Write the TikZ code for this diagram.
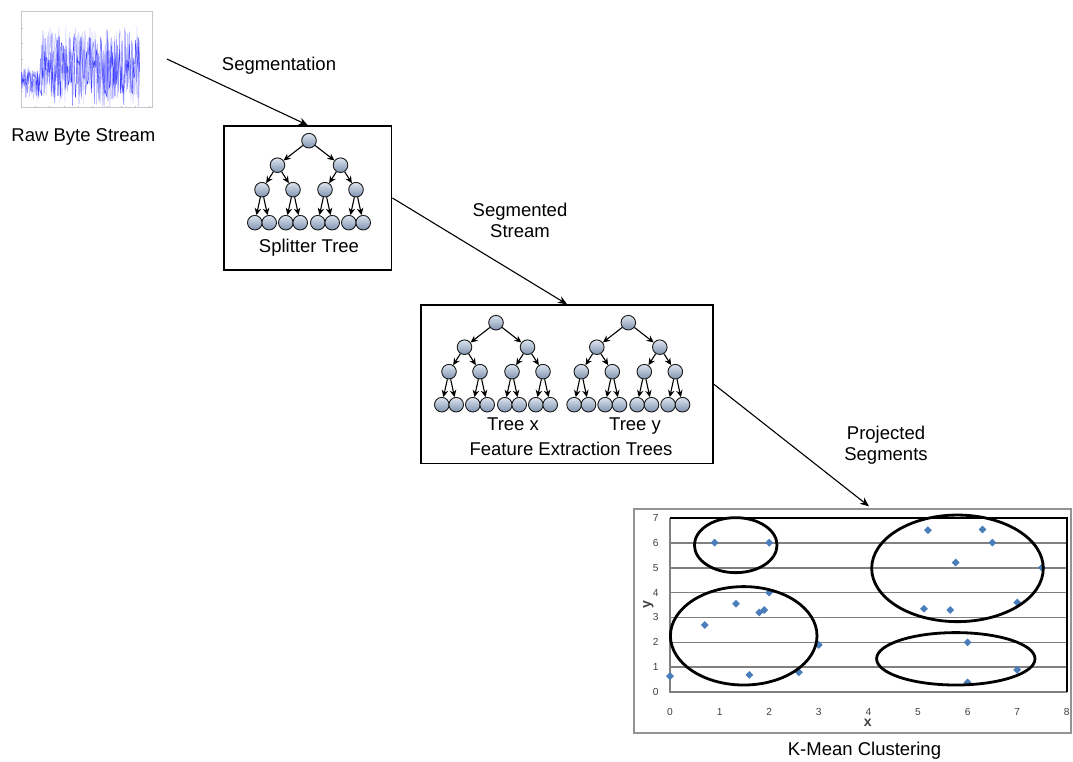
\documentclass[tikz,border=0pt]{standalone}
\usepackage{fontspec}
\setmainfont{Liberation Sans}
\usetikzlibrary{arrows.meta,shapes.geometric,calc}

\definecolor{nodetop}{HTML}{DDE5EF}
\definecolor{nodebot}{HTML}{7F92B0}
\definecolor{ptblue}{HTML}{4A7EBB}
\definecolor{gridgray}{HTML}{808080}
\definecolor{ticktext}{HTML}{404040}

\tikzset{
  lbl/.style={font=\fontsize{18.5}{21.5}\selectfont, anchor=base, inner sep=0},
  boxframe/.style={draw, line width=1.5pt, inner sep=0, rectangle},
  tnode/.style={circle, inner sep=0, minimum size=14.6pt, draw=black!90,
    line width=0.9pt, top color=nodetop, bottom color=nodebot},
  tarrow/.style={-{Stealth[length=7pt,width=6.5pt]}, line width=1.1pt},
  flow/.style={-{Stealth[length=9pt,width=7.5pt]}, line width=1.1pt},
  gridline/.style={gridgray, line width=1.8pt},
  plotborder/.style={black, line width=2.2pt},
  cluster/.style={draw=black, line width=2.8pt},
  datapt/.style={diamond, fill=ptblue, inner sep=0, minimum size=8pt},
  ticklbl/.style={font=\fontsize{10.2}{12}\selectfont, text=ticktext, inner sep=0},
  axtitle/.style={font=\fontsize{14}{16}\selectfont\bfseries, text=ticktext, inner sep=0},
  trace/.style={line width=0.55pt, line join=round},
}

% binary tree of depth 3: root, two children, four grandchildren, eight leaves
\newcommand{\bintree}[3]{%
  \node[tnode] (#1) at (#2,#3) {};
  \foreach \i/\dx in {l/-31.5, r/31.5} {
    \node[tnode] (#1\i) at (#2+\dx, #3+24.5) {};
    \draw[tarrow] (#1) -- (#1\i);
    \foreach \j/\ex in {l/-15.5, r/15.5} {
      \node[tnode] (#1\i\j) at (#2+\dx+\ex, #3+49) {};
      \draw[tarrow] (#1\i) -- (#1\i\j);
      \foreach \k/\fx in {l/-7.2, r/7.2} {
        \node[tnode] (#1\i\j\k) at (#2+\dx+\ex+\fx, #3+82) {};
        \draw[tarrow] (#1\i\j) -- (#1\i\j\k);
      }
    }
  }%
}

\begin{document}
\begin{tikzpicture}[x=1pt, y=-1pt]
\useasboundingbox (0,0) rectangle (1073,762);

% ---------- raw byte stream plot ----------
\node[inner sep=0, minimum width=158.7pt, minimum height=112pt] (rawimg) at (87.35,59) {};
\node[draw=black!22, line width=0.7pt, inner sep=0, minimum width=131.7pt,
      minimum height=95.6pt] (rawplot) at (86.85,59.5) {};
\foreach \k in {1,...,9} \draw[black!25, line width=0.5pt] (21+14.3*\k,107.3) -- ++(0,-1.5);
\foreach \k in {1,...,5} \draw[black!25, line width=0.5pt] (21,107.3-15.9*\k) -- ++(1.5,0);
\begin{scope}
  \clip (21,11.7) rectangle (152.7,107.3);
  \pgfmathsetseed{271}
  \draw[trace, blue!20] (21,85) \foreach \i in {1,...,240}
    { -- ({21+0.493*\i},{(\i<39)*(66+34*rnd)+(\i>38)*(26+81*rnd)}) };
  \draw[trace, blue!42] (21,80) \foreach \i in {1,...,200}
    { -- ({21+0.592*\i},{(\i<33)*(68+30*rnd)+(\i>32)*(30+76*rnd)}) };
  \draw[trace, blue!75, line width=0.45pt] (21,90) \foreach \i in {1,...,150}
    { -- ({21+0.79*\i},{(\i<25)*(70+28*rnd)+(\i>24)*(36+62*rnd)}) };
\end{scope}
\node[lbl] (rawlbl) at (83.4,141.5) {Raw Byte Stream};

% ---------- splitter tree ----------
\node[boxframe, minimum width=167.7pt, minimum height=144pt] (splitter) at (307.85,198) {};
\bintree{s}{309}{140.7}
\node[lbl] (splitlbl) at (309,252.5) {Splitter Tree};

% ---------- feature extraction trees ----------
\node[boxframe, minimum width=292pt, minimum height=158.3pt] (feature) at (567,384.15) {};
\bintree{tx}{496}{322.7}
\bintree{ty}{628.3}{322.7}
\node[lbl] (txlbl) at (513,430) {Tree x};
\node[lbl] (tylbl) at (635,430) {Tree y};
\node[lbl] (featlbl) at (571,455) {Feature Extraction Trees};

% ---------- clustering chart ----------
\node[draw=gridgray!85, line width=1.4pt, inner sep=0, minimum width=437pt,
      minimum height=224pt] (chart) at (852.5,621) {};
\begin{scope}[shift={(670,692.3)}, x=49.6pt, y=24.94pt]
  \foreach \v in {1,...,6} \draw[gridline] (0,\v) -- (8,\v);
  \draw[gridline] (0,7) -- (0,0) -- (8,0);
  \draw[plotborder] (0,7) -- (8,7) -- (8,0);
  \foreach \v in {0,...,7} \node[ticklbl] (ytick\v) at ([xshift=-14.3pt]0,\v) {\v};
  \foreach \v in {0,...,8} \node[ticklbl] (xtick\v) at ([yshift=-19.4pt]\v,0) {\v};
  \foreach \px/\py [count=\n] in {0/0.65, 0.7/2.7, 0.9/6, 1.33/3.55, 1.6/0.7, 1.8/3.2,
      1.9/3.3, 2/6, 2/4, 2.6/0.8, 3/1.9, 5.12/3.35, 5.2/6.5, 5.65/3.3, 5.76/5.2,
      6/2, 6/0.4, 6.3/6.53, 6.5/6, 7/3.6, 7/0.9, 7.5/5}
    \node[datapt] (p\n) at (\px,\py) {};
  \draw[cluster] (1.325,5.9) ellipse [x radius=41.3pt, y radius=27.5pt];
  \draw[cluster] (1.486,2.265) ellipse [x radius=73.3pt, y radius=49.2pt];
  \draw[cluster] (5.796,4.97) ellipse [x radius=85.8pt, y radius=53.3pt];
  \draw[cluster] (5.762,1.343) ellipse [x radius=79.2pt, y radius=26.2pt];
\end{scope}
\node[axtitle] (xtitle) at (867.7,723) {x};
\node[axtitle, rotate=90] (ytitle) at (648.3,605) {y};
\node[lbl] (kmlbl) at (864.5,755.5) {K-Mean Clustering};

% ---------- flow arrows ----------
\coordinate (chartin) at ([xshift=16.5pt,yshift=2pt]chart.north);
\draw[flow] (rawimg.east) -- (splitter.north);
\node[lbl] (seglbl) at (279,70.5) {Segmentation};
\draw[flow] (splitter.east) -- (feature.north);
\node[lbl] (ss1) at (520,216) {Segmented};
\node[lbl] (ss2) at (520,237.5) {Stream};
\draw[flow] (feature.east) -- (chartin);
\node[lbl] (ps1) at (886,439.3) {Projected};
\node[lbl] (ps2) at (886,460.7) {Segments};
\end{tikzpicture}
\end{document}
